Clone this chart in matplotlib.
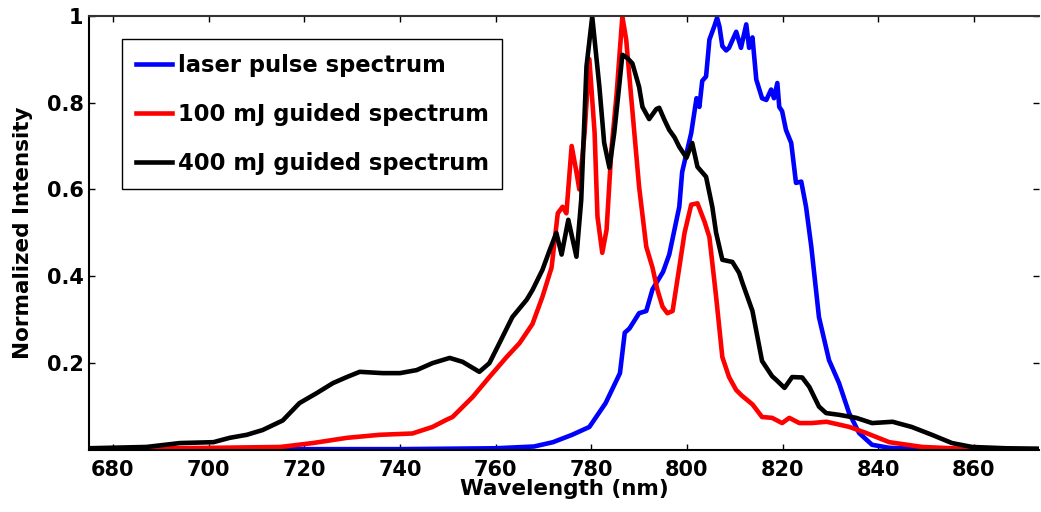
import numpy as np
import matplotlib
matplotlib.use("Agg")
import matplotlib.pyplot as plt

plt.rcParams['font.family'] = ['DejaVu Sans']
plt.rcParams['font.weight'] = 'bold'

# laser pulse spectrum (blue)
wl_laser = [675, 700, 740, 760, 768, 772, 776, 779.6, 783, 786, 787, 788, 790, 791.5, 792.8,
            795, 796.3, 798.4, 799, 800.9, 802, 802.6, 803.2, 804, 804.7, 805.7, 806.3, 806.8,
            807.4, 808.2, 808.8, 810.3, 811.3, 812.4, 813, 813.7, 814.5, 815.7, 816.6, 817.6,
            818.2, 818.9, 819.3, 819.9, 820.7, 821.8, 822.8, 823.9, 824.9, 826, 827.6, 829.7,
            831.8, 833.9, 836, 838.7, 842.3, 850, 874]
int_laser = [0.002, 0.002, 0.002, 0.004, 0.008, 0.018, 0.035, 0.053, 0.108, 0.177, 0.27, 0.28,
             0.315, 0.32, 0.37, 0.41, 0.45, 0.56, 0.64, 0.73, 0.81, 0.79, 0.85, 0.86, 0.945,
             0.975, 0.995, 0.975, 0.93, 0.92, 0.926, 0.963, 0.926, 0.98, 0.926, 0.95, 0.853,
             0.81, 0.806, 0.83, 0.81, 0.845, 0.79, 0.78, 0.737, 0.707, 0.615, 0.618, 0.56,
             0.468, 0.306, 0.207, 0.154, 0.085, 0.039, 0.012, 0.005, 0.002, 0.001]

# 100 mJ guided spectrum (red)
wl_100 = [675, 690, 701, 715, 721.8, 728.9, 735.8, 742.6, 746.8, 749.8, 751, 755.2, 758.7,
          762.3, 765, 767.7, 769.8, 771.7, 773, 774, 774.8, 775.9, 776.9, 777.5, 778.6, 779.6,
          780.7, 781.3, 782.3, 783.2, 784.2, 785.3, 786.5, 787.3, 788.4, 790, 791.5, 792.8,
          793.8, 794.9, 795.9, 797, 798.4, 799.5, 800.9, 802.2, 803.7, 804.7, 806.1, 807.4,
          808.8, 810.3, 811.5, 813.7, 815.7, 817.8, 819.9, 821.4, 823.5, 826, 829.2, 834,
          837.5, 842.3, 849.2, 859.6, 874]
int_100 = [0.004, 0.004, 0.005, 0.007, 0.016, 0.028, 0.035, 0.038, 0.053, 0.07, 0.076, 0.122,
           0.168, 0.214, 0.246, 0.29, 0.353, 0.42, 0.545, 0.56, 0.545, 0.70, 0.64, 0.60, 0.73,
           0.90, 0.73, 0.537, 0.454, 0.507, 0.69, 0.82, 0.998, 0.945, 0.806, 0.606, 0.468,
           0.42, 0.37, 0.33, 0.315, 0.32, 0.42, 0.50, 0.565, 0.568, 0.525, 0.49, 0.353, 0.214,
           0.168, 0.138, 0.125, 0.105, 0.076, 0.074, 0.062, 0.074, 0.062, 0.062, 0.065, 0.053,
           0.039, 0.018, 0.007, 0.002, 0.001]

# 400 mJ guided spectrum (black)
wl_400 = [675, 687, 694, 701, 704.4, 708, 711.3, 715.5, 719, 722.6, 726, 728.9, 731.6, 736.4,
          740, 743.5, 746.8, 750.4, 753.1, 756.6, 758.7, 760.8, 763.5, 766.5, 767.7, 769.8,
          771.3, 772.7, 773.8, 775.2, 776.9, 777.9, 779, 780.2, 781.7, 782.7, 783.8, 784.8,
          785.9, 786.5, 787.5, 788.6, 790, 790.7, 792.1, 793.6, 794.2, 795.3, 796.3, 797.4,
          798.4, 799.9, 801.1, 802.2, 804, 805.3, 806.1, 807.4, 809.5, 810.9, 811.6, 813.7,
          815.7, 817.8, 818.7, 820.4, 822, 824.1, 825.6, 827.6, 829.1, 831.8, 835.4, 838.7,
          843, 847, 851.2, 855.4, 859.6, 866.7, 874]
int_400 = [0.004, 0.007, 0.016, 0.018, 0.028, 0.035, 0.046, 0.068, 0.108, 0.131, 0.154, 0.168,
           0.18, 0.177, 0.177, 0.184, 0.20, 0.212, 0.203, 0.18, 0.20, 0.246, 0.306, 0.346,
           0.368, 0.415, 0.46, 0.50, 0.45, 0.53, 0.445, 0.576, 0.883, 0.998, 0.836, 0.707,
           0.65, 0.73, 0.845, 0.91, 0.903, 0.89, 0.836, 0.79, 0.762, 0.785, 0.788, 0.76, 0.737,
           0.72, 0.698, 0.673, 0.707, 0.652, 0.629, 0.56, 0.50, 0.438, 0.433, 0.408, 0.385,
           0.32, 0.205, 0.17, 0.161, 0.143, 0.168, 0.167, 0.145, 0.10, 0.085, 0.081, 0.074,
           0.062, 0.065, 0.053, 0.035, 0.016, 0.007, 0.004, 0.003]

labels = ['laser pulse spectrum', '100 mJ guided spectrum', '400 mJ guided spectrum']
xticks = [680, 700, 720, 740, 760, 780, 800, 820, 840, 860]
yticks = [0.2, 0.4, 0.6, 0.8, 1.0]
ytick_labels = ['0.2', '0.4', '0.6', '0.8', '1']

fig = plt.figure(figsize=(10.41, 5.12), dpi=100)
ax = fig.add_axes([89 / 1041, 62 / 512, 950 / 1041, 434.3 / 512])

ax.plot(wl_laser, int_laser, color=(0, 0, 1), lw=3.3, label=labels[0])
ax.plot(wl_100, int_100, color=(1, 0, 0), lw=3.3, label=labels[1])
ax.plot(wl_400, int_400, color='black', lw=3.3, label=labels[2])

ax.set_xlim(675, 873.6)
ax.set_ylim(0, 1)
ax.set_xticks(xticks)
ax.set_yticks(yticks)
ax.set_yticklabels(ytick_labels)
ax.tick_params(direction='in', length=4, width=1, top=True, right=True,
               labelsize=15)
ax.tick_params(axis='x', pad=7)
ax.tick_params(axis='y', pad=4)
for lab in ax.get_xticklabels() + ax.get_yticklabels():
    lab.set_fontweight('bold')
ax.spines['right'].set_visible(False)
for s in ['left', 'bottom', 'top']:
    ax.spines[s].set_linewidth(1.5)
ax.spines['top'].set_color('#333333')

ax.set_xlabel('Wavelength (nm)', fontsize=15.5, fontweight='bold')
ax.set_ylabel('Normalized Intensity', fontsize=15.5, fontweight='bold')
ax.xaxis.set_label_coords(0.5, -0.066)
ax.yaxis.set_label_coords(-0.059, 0.5)

leg = ax.legend(loc='upper left', bbox_to_anchor=(0.0347, 0.601, 0.4, 0.345),
                mode='expand', fontsize=16.3,
                handlelength=1.55, handletextpad=0.27, labelspacing=1.15,
                borderpad=0.64, borderaxespad=0, fancybox=False, framealpha=1)
leg.get_frame().set_edgecolor('black')
leg.get_frame().set_linewidth(1.0)
for t in leg.get_texts():
    t.set_fontweight('bold')

fig.savefig('out.png', dpi=100)
